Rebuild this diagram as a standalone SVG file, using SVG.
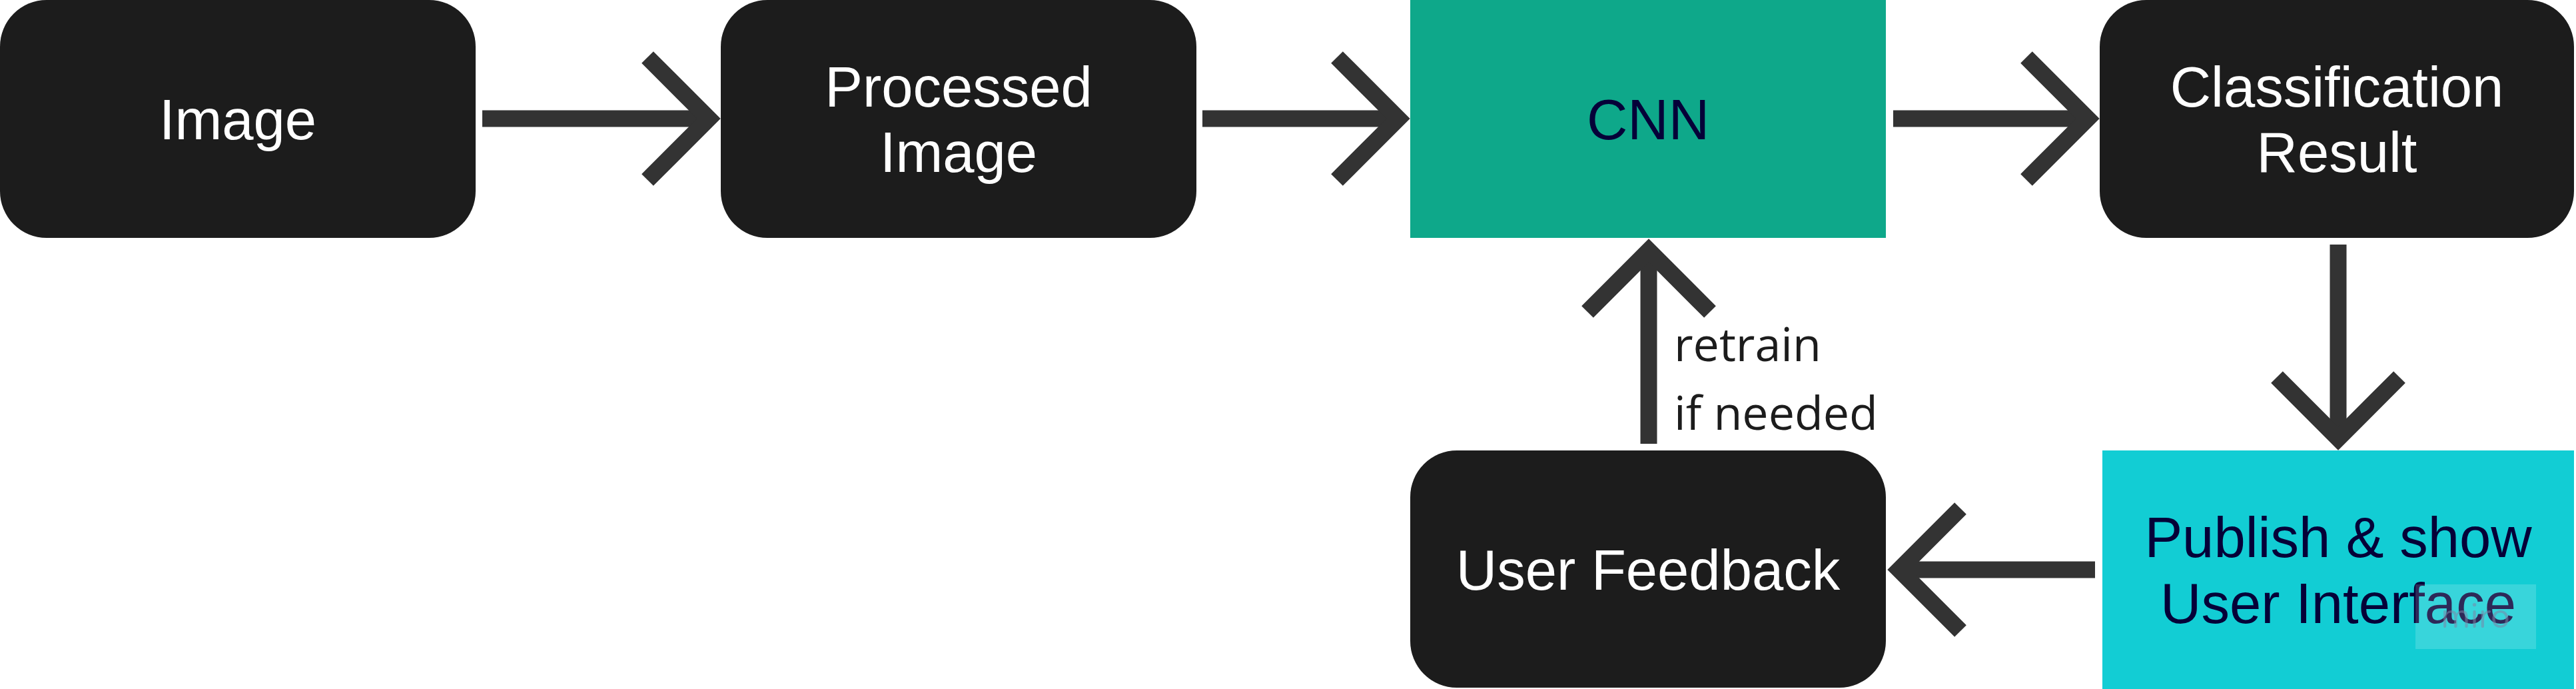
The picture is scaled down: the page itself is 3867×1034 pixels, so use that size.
<svg xmlns="http://www.w3.org/2000/svg" width="3867" height="1034" viewBox="0 0 3867 1034">
<style>
.dark{fill:#1c1c1c}
.lbl{font-family:"Liberation Sans",Arial,sans-serif;font-size:85px;text-anchor:middle}
.w{fill:#ffffff}
.n{fill:#050038}
.edge{stroke:#333333;stroke-width:25;fill:none;stroke-linejoin:miter;stroke-miterlimit:10;stroke-linecap:butt}
.elbl{font-family:"Open Sans","Noto Sans",sans-serif;font-size:70px;fill:#1c1c1c}
</style>
<rect width="3867" height="1034" fill="#ffffff"/>
<g id="node-image">
<rect class="dark" x="0" y="0" width="714" height="357" rx="70" ry="70"/>
<text class="lbl w" x="357" y="209">Image</text>
</g>
<g id="node-processed">
<rect class="dark" x="1082" y="0" width="714" height="357" rx="70" ry="70"/>
<text class="lbl w" x="1439" y="160">Processed</text>
<text class="lbl w" x="1439" y="258">Image</text>
</g>
<g id="node-cnn">
<rect x="2117" y="0" width="714" height="357" fill="#0ea88a"/>
<text class="lbl n" x="2474" y="209">CNN</text>
</g>
<g id="node-classification">
<rect class="dark" x="3152" y="0" width="712" height="357" rx="70" ry="70"/>
<text class="lbl w" x="3508" y="160">Classification</text>
<text class="lbl w" x="3508" y="258">Result</text>
</g>
<g id="node-publish">
<rect x="3156" y="676" width="708" height="358" fill="#12cdd4"/>
<text class="lbl n" x="3510" y="836">Publish &amp; show</text>
<text class="lbl n" x="3510" y="935">User Interface</text>
<rect x="3626" y="877" width="181" height="97" fill="#ffffff" fill-opacity="0.16"/>
<text x="3716" y="942" font-family="Nunito,'Open Sans',sans-serif" font-size="52" text-anchor="middle" fill="#7a86a8" fill-opacity="0.55">miro</text>
</g>
<g id="node-feedback">
<rect class="dark" x="2117" y="676" width="714" height="356" rx="70" ry="70"/>
<text class="lbl w" x="2474" y="885">User Feedback</text>
</g>
<g id="connectors">
<line class="edge" x1="724" y1="178" x2="1064" y2="178"/>
<polyline class="edge" points="972,86 1064,178 972,270"/>
<line class="edge" x1="1805" y1="178" x2="2099" y2="178"/>
<polyline class="edge" points="2007,86 2099,178 2007,270"/>
<line class="edge" x1="2842" y1="178" x2="3134" y2="178"/>
<polyline class="edge" points="3042,86 3134,178 3042,270"/>
<line class="edge" x1="3510" y1="367" x2="3510" y2="658"/>
<polyline class="edge" points="3418,566 3510,658 3602,566"/>
<line class="edge" x1="3145" y1="855" x2="2851" y2="855"/>
<polyline class="edge" points="2943,763 2851,855 2943,947"/>
<line class="edge" x1="2475" y1="666" x2="2475" y2="376"/>
<polyline class="edge" points="2383,468 2475,376 2567,468"/>
<text class="elbl" x="2513" y="542">retrain</text>
<text class="elbl" x="2513" y="645">if needed</text>
</g>
</svg>
